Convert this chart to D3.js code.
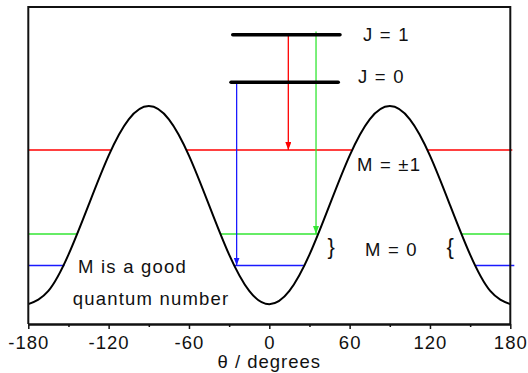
<!DOCTYPE html>
<html>
  <head>
    <meta charset="UTF-8">
    <title>Hindered rotor levels</title>
    <style>
      * { margin: 0; padding: 0; overflow: hidden; }
      body { background: #fff; }
      text { font-family: "Liberation Sans", Arial, sans-serif; }
    </style>
    <script src="https://d3js.org/d3.v7.min.js"></script>
  </head>
  <body>
    <script type="text/javascript">
      // axis ticks
      const majorTicks = [-180, -120, -60, 0, 60, 120, 180];
      const minorTicks = [-150, -90, -30, 30, 90, 150];

      // potential curve, read every 15 degrees
      const curveTheta = [-180, -165, -150, -135, -120, -105, -90, -75, -60, -45, -30, -15, 0,
                          15, 30, 45, 60, 75, 90, 105, 120, 135, 150, 165, 180];
      const curveV = [0, 0.067, 0.25, 0.5, 0.75, 0.933, 1, 0.933, 0.75, 0.5, 0.25, 0.067, 0,
                      0.067, 0.25, 0.5, 0.75, 0.933, 1, 0.933, 0.75, 0.5, 0.25, 0.067, 0];

      // horizontal levels (red, green, blue) and the theta ranges where they show
      const levelColors = ["#ff0000", "#33e633", "#1a1aff"];
      const levelV = [0.778, 0.354, 0.195];
      const levelSegments = [
        [[-180, -118.5], [-61.5, 61.5], [118.5, 181.5]],
        [[-180, -143], [-36.2, 36.2], [143.8, 180]],
        [[-180, -153], [-25.8, 25.8], [154.2, 183]]
      ];

      // J states (thick black bars)
      const stateNames = ["J = 1", "J = 0"];
      const stateV = [1.360, 1.120];
      const stateRange = [[-27.3, 52.8], [-28.6, 51.5]];

      // transitions
      const arrowTheta = [14.2, 34.9, -24.4];
      const arrowFrom = [1.360, 1.376, 1.120];
      const arrowTo = [0.778, 0.354, 0.195];

      const WIDTH = 528, HEIGHT = 373;
      const x = d3.scaleLinear().domain([-180, 180]).range([28.3, 510.3]);
      const y = d3.scaleLinear().domain([-0.1, 1.5]).range([324, 7]);

      const svg = d3.select("body").append("svg")
        .attr("width", WIDTH).attr("height", HEIGHT);

      const defs = svg.append("defs");
      levelColors.forEach((c, i) => {
        defs.append("marker")
          .attr("id", "arr" + i)
          .attr("markerUnits", "userSpaceOnUse")
          .attr("viewBox", "0 0 8 6")
          .attr("refX", 8).attr("refY", 3)
          .attr("markerWidth", 8).attr("markerHeight", 6)
          .attr("orient", "auto")
          .append("path")
          .attr("d", "M0,0L8,3L0,6Z")
          .attr("fill", c);
      });

      // level lines
      levelSegments.forEach((segs, i) => {
        svg.selectAll(".lv" + i)
          .data(segs)
          .enter().append("line")
          .attr("x1", d => x(d[0]))
          .attr("x2", d => x(d[1]))
          .attr("y1", y(levelV[i]))
          .attr("y2", y(levelV[i]))
          .attr("stroke", levelColors[i])
          .attr("stroke-width", 1.5);
      });

      // arrows
      svg.selectAll(".arrow")
        .data(arrowTheta)
        .enter().append("line")
        .attr("x1", d => x(d)).attr("x2", d => x(d))
        .attr("y1", (d, i) => y(arrowFrom[i]))
        .attr("y2", (d, i) => y(arrowTo[i]))
        .attr("stroke", (d, i) => levelColors[i])
        .attr("stroke-width", 1.3)
        .attr("marker-end", (d, i) => `url(#arr${i})`);

      // J bars
      svg.selectAll(".state")
        .data(stateV)
        .enter().append("line")
        .attr("x1", (d, i) => x(stateRange[i][0]))
        .attr("x2", (d, i) => x(stateRange[i][1]))
        .attr("y1", d => y(d)).attr("y2", d => y(d))
        .attr("stroke", "#000")
        .attr("stroke-width", 3.5)
        .attr("stroke-linecap", "round");

      // potential curve
      const line = d3.line()
        .x((d, i) => x(curveTheta[i]))
        .y(d => y(d))
        .curve(d3.curveNatural);
      svg.append("path")
        .datum(curveV)
        .attr("d", line)
        .attr("fill", "none")
        .attr("stroke", "#000")
        .attr("stroke-width", 2);

      // frame
      svg.append("path")
        .attr("d", `M${x(-180)},${y(-0.1)}V${y(1.5)}H${x(180)}V${y(-0.1)}`)
        .attr("fill", "none")
        .attr("stroke", "#111")
        .attr("stroke-width", 2);

      // bottom axis
      const gx = svg.append("g").attr("transform", `translate(0,${y(-0.1)})`);
      gx.call(d3.axisBottom(x).tickValues(majorTicks).tickSize(5).tickSizeOuter(0)
        .tickFormat(d => String(d)));
      const gm = svg.append("g").attr("transform", `translate(0,${y(-0.1)})`);
      gm.call(d3.axisBottom(x).tickValues(minorTicks).tickSize(3).tickSizeOuter(0).tickFormat(""));
      [gx, gm].forEach(g => {
        g.select(".domain").attr("stroke", "#111").attr("stroke-width", 2);
        g.selectAll(".tick line").attr("stroke", "#111").attr("stroke-width", 1.5);
      });
      gx.selectAll(".tick text")
        .attr("y", 25).attr("dy", 0)
        .attr("font-size", 18.5)
        .attr("letter-spacing", 1)
        .attr("fill", "#111")
        .style("font-family", "'Liberation Sans', Arial, sans-serif");

      svg.append("text")
        .attr("x", x(0)).attr("y", 368)
        .attr("text-anchor", "middle")
        .attr("font-size", 18.5)
        .attr("letter-spacing", 1)
        .attr("fill", "#111")
        .text("θ / degrees");

      // annotations
      const note = (tx, ty, s, size) => svg.append("text")
        .attr("x", tx).attr("y", ty)
        .attr("font-size", size || 18.5)
        .attr("letter-spacing", 1.2)
        .attr("fill", "#111")
        .text(s);

      note(x(70), y(1.329), stateNames[0]);
      note(x(66.3), y(1.117), stateNames[1]);
      note(x(65.5), y(0.672), "M = ±1");
      note(x(71.5), y(0.243), "M = 0");
      note(x(43.5), y(0.253), "}", 22);
      note(x(132.3), y(0.253), "{", 22);
      note(x(-142.8), y(0.158), "M is a good");
      note(x(-146.8), y(-0.004), "quantum number");
    </script>
  </body>
</html>
